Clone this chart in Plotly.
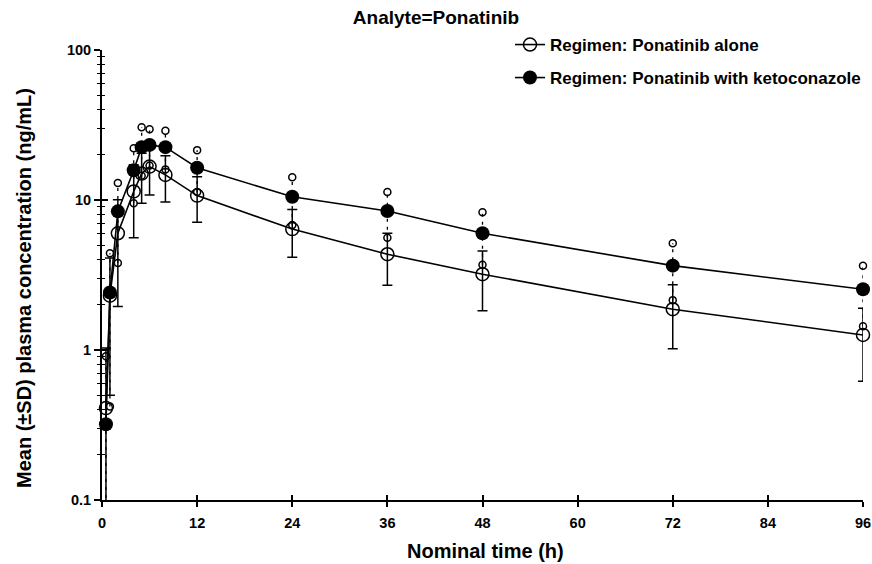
import plotly.graph_objects as go

# ---------------- data ----------------
times = [0.5, 1, 2, 4, 5, 6, 8, 12, 24, 36, 48, 72, 96]
alone_mean = [0.41, 2.3, 6.0, 11.4, 15.0, 16.7, 14.7, 10.7, 6.4, 4.35, 3.2, 1.87, 1.26]
alone_sd = [0.62, 1.8, 4.05, 5.8, 5.5, 5.9, 5.0, 3.6, 2.25, 1.65, 1.37, 0.85, 0.64]
keto_mean = [0.32, 2.42, 8.4, 15.8, 22.5, 23.3, 22.5, 16.4, 10.5, 8.45, 6.0, 3.65, 2.54]
keto_sd = [0.59, 2.0, 4.6, 6.3, 8.0, 6.3, 6.5, 5.1, 3.7, 2.85, 2.3, 1.5, 1.1]

x_ticks = [0, 12, 24, 36, 48, 60, 72, 84, 96]
y_ticks = [0.1, 1, 10, 100]
y_ticklabels = ["0.1", "1", "10", "100"]
y_minor = [m * d for d in (0.1, 1, 10) for m in range(2, 10)]

name_alone = "Regimen: Ponatinib alone"
name_keto = "Regimen: Ponatinib with ketoconazole"

FONT = "Liberation Sans, Arial, sans-serif"

# keto SD bars (dashed) and ring caps, built from the data arrays
kx, ky, rx, ry = [], [], [], []
for t, m, s in zip(times, keto_mean, keto_sd):
    hi = m + s
    lo = m - s
    lo_draw = lo if lo > 0 else 0.01
    kx += [t, t, None]
    ky += [lo_draw, hi, None]
    rx.append(t); ry.append(hi)
    if lo > 0.1:
        rx.append(t); ry.append(lo)

fig = go.Figure()

fig.add_trace(go.Scatter(
    x=kx, y=ky, mode="lines", showlegend=False, hoverinfo="skip",
    line=dict(color="black", width=1.3, dash="3px,5px"), cliponaxis=True,
))
fig.add_trace(go.Scatter(
    x=rx, y=ry, mode="markers", showlegend=False, hoverinfo="skip",
    marker=dict(symbol="circle-open", size=7, color="black", line=dict(width=1.5, color="black")),
    cliponaxis=False,
))
fig.add_trace(go.Scatter(
    x=times, y=alone_mean, mode="lines+markers", name=name_alone, legend="legend",
    line=dict(color="black", width=1.6),
    marker=dict(symbol="circle-open", size=13, color="black", line=dict(width=1.5, color="black")),
    error_y=dict(type="data", array=alone_sd, visible=True, color="black", thickness=1.5, width=5),
    cliponaxis=False,
))
fig.add_trace(go.Scatter(
    x=times, y=keto_mean, mode="lines+markers", name=name_keto, legend="legend2",
    line=dict(color="black", width=1.6),
    marker=dict(symbol="circle", size=14, color="black"),
    cliponaxis=False,
))
# dummy trace to anchor overlay axes (crossing ticks)
fig.add_trace(go.Scatter(x=[None], y=[None], xaxis="x2", yaxis="y2", showlegend=False, hoverinfo="skip"))

tickfont = dict(family=FONT, size=14.5, color="black", weight="bold")
legfont = dict(family=FONT, size=17, color="black", weight="bold")

fig.update_layout(
    width=872, height=564,
    margin=dict(l=102, r=9, t=50, b=64, autoexpand=False),
    paper_bgcolor="white", plot_bgcolor="white",
    title=dict(text="Analyte=Ponatinib", x=0.5, xref="container", xanchor="center",
               y=1 - 17 / 564, yref="container", yanchor="middle",
               font=dict(family=FONT, size=19, color="black", weight="bold")),
    xaxis=dict(range=[0, 96], tickmode="array", tickvals=x_ticks, ticks="outside", ticklen=5,
               tickwidth=1.5, tickcolor="black", showline=True, linecolor="black", linewidth=1.5,
               showgrid=False, zeroline=False, tickfont=tickfont, ticklabelstandoff=4,
               automargin=False),
    yaxis=dict(type="log", range=[-1, 2], tickmode="array", tickvals=y_ticks, ticktext=y_ticklabels,
               ticks="outside", ticklen=6, tickwidth=1.5, tickcolor="black",
               showline=True, linecolor="black", linewidth=2, showgrid=False, zeroline=False,
               tickfont=tickfont, automargin=False,
               minor=dict(tickmode="array", tickvals=y_minor, ticks="outside", ticklen=3,
                          tickwidth=1.2, tickcolor="black", showgrid=False)),
    xaxis2=dict(overlaying="x", anchor="y", range=[0, 96], tickmode="array", tickvals=x_ticks,
                ticks="inside", ticklen=5, tickwidth=1.5, tickcolor="black", showticklabels=False,
                showline=False, showgrid=False, zeroline=False),
    yaxis2=dict(overlaying="y", anchor="x", type="log", range=[-1, 2], tickmode="array",
                tickvals=y_ticks, ticks="inside", ticklen=6, tickwidth=1.5, tickcolor="black",
                showticklabels=False, showline=False, showgrid=False, zeroline=False,
                minor=dict(tickmode="array", tickvals=y_minor, ticks="inside", ticklen=3,
                           tickwidth=1.2, tickcolor="black", showgrid=False)),
    legend=dict(xref="container", yref="container", x=510 / 872, xanchor="left",
                y=1 - 45 / 564, yanchor="middle",
                bgcolor="rgba(0,0,0,0)", font=legfont, itemwidth=30),
    legend2=dict(xref="container", yref="container", x=510 / 872, xanchor="left",
                 y=1 - 78 / 564, yanchor="middle",
                 bgcolor="rgba(0,0,0,0)", font=legfont, itemwidth=30),
    annotations=[
        dict(text="Nominal time (h)", xref="paper", yref="paper", x=(485 - 102) / 761,
             y=(500 - 551) / 450, xanchor="center", yanchor="middle", showarrow=False,
             font=dict(family=FONT, size=20, color="black", weight="bold")),
        dict(text="Mean (±SD) plasma concentration (ng/mL)", xref="paper", yref="paper",
             x=(24 - 102) / 761, y=(500 - 288) / 450, xanchor="center", yanchor="middle",
             textangle=-90, showarrow=False,
             font=dict(family=FONT, size=20, color="black", weight="bold")),
    ],
)

fig.write_html("out.html", post_script="document.body.style.margin='0px';",
               config={"displayModeBar": False})
